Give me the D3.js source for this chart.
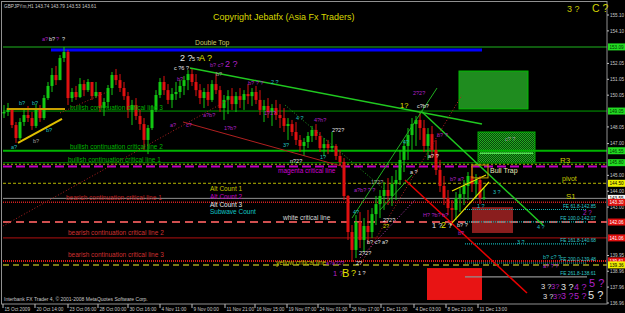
<!DOCTYPE html>
<html>
<head>
<meta charset="utf-8">
<script src="https://cdnjs.cloudflare.com/ajax/libs/d3/7.8.5/d3.min.js"></script>
<style>
  body { margin: 0; background: #000; }
  svg  { display: block; }
  text { font-family: "Liberation Sans", Arial, sans-serif; }
</style>
</head>
<body>
<script>
(function() {

var width = 625, height = 313;

/* GBPJPY H1, one candle per 8 bars */
var highs = [149.43,149.56,149.24,148.36,148.61,149.12,149.37,148.99,149.49,149.43,
             150.06,150.88,151.76,151.89,152.58,153.09,152.90,150.50,150.63,151.13,
             151.00,151.07,150.75,150.88,150.25,149.87,150.69,151.51,151.70,151.38,
             150.88,150.25,149.75,149.87,149.12,148.61,148.17,149.43,150.37,151.13,
             151.26,150.75,150.50,150.88,151.00,151.26,151.63,151.76,151.38,150.75,
             150.50,150.75,151.00,151.51,150.63,150.06,150.37,150.50,150.25,150.50,
             150.37,150.75,150.50,150.63,150.37,149.75,149.87,149.49,149.75,149.49,
             149.24,148.61,148.49,148.36,147.54,147.35,147.73,148.11,148.23,147.73,
             147.35,147.23,147.73,146.97,146.60,146.09,143.76,141.87,142.50,142.69,
             142.31,142.82,142.94,143.70,144.08,144.58,144.83,144.96,145.34,146.60,
             147.23,147.98,148.61,148.74,148.99,148.49,147.98,148.11,147.23,145.97,
             144.96,144.08,143.45,143.95,144.20,144.71,145.21,145.59,145.08,144.96,
             144.20];
var lows  = [148.61,148.74,147.98,147.04,147.23,148.11,148.36,147.86,147.98,148.36,
             148.49,149.75,150.25,150.69,151.00,152.14,149.43,149.62,149.75,149.87,
             149.99,150.25,149.75,149.87,148.99,148.74,149.24,150.06,150.69,150.25,
             149.75,148.61,148.17,148.49,147.86,146.60,146.34,147.86,148.99,149.87,
             150.06,149.49,149.24,149.75,149.87,150.06,150.37,150.63,149.99,149.49,
             149.24,149.37,149.62,150.12,148.99,148.49,148.86,149.12,148.99,149.24,
             149.12,149.49,149.37,149.49,148.80,148.36,148.61,148.11,148.49,147.98,
             147.73,147.23,147.48,146.91,146.47,146.22,146.72,147.10,147.23,146.47,
             146.22,146.34,146.47,145.97,145.59,143.45,140.93,139.54,139.79,140.42,
             140.17,140.67,141.05,141.87,142.31,142.82,143.13,143.07,143.45,144.39,
             145.21,145.97,146.60,146.85,147.23,146.47,145.97,146.09,145.02,143.95,
             143.13,142.50,141.93,142.19,142.69,143.13,143.45,143.95,143.57,143.19,
             143.45];
var closes = [148.99,149.24,148.17,147.35,148.36,148.80,148.61,148.11,149.12,148.61,
              149.87,150.63,151.32,151.00,152.39,152.77,149.87,150.25,149.93,150.75,
              150.37,150.88,149.99,150.25,149.24,149.62,150.50,151.32,151.00,150.50,
              149.99,149.12,149.43,148.74,148.23,147.23,147.98,149.12,150.06,150.88,
              150.37,149.75,150.12,150.25,150.63,151.00,151.38,150.88,150.37,149.87,
              150.25,149.75,150.75,150.37,149.24,149.75,149.99,149.49,149.99,149.75,
              150.12,149.99,150.25,149.75,149.12,149.37,148.99,149.24,148.80,148.61,
              148.11,148.23,147.73,147.23,146.85,147.10,147.48,147.86,147.48,146.72,
              146.97,146.72,146.85,146.22,145.84,143.70,141.43,140.30,142.06,140.93,
              141.81,141.43,142.56,143.19,143.70,144.08,143.70,144.45,144.71,145.97,
              146.85,147.54,148.23,148.49,147.98,146.85,147.60,146.60,145.34,144.33,
              143.57,142.94,142.82,143.57,143.82,144.33,144.96,144.45,144.71,143.57,
              143.61];
var firstOpen = 148.90,
    barsPerCandle = 8;

var dateLabels = ["15 Oct 2009","20 Oct 14:00","23 Oct 06:00","28 Oct 00:00","30 Oct 16:00",
                  "4 Nov 11:00","9 Nov 00:00","11 Nov 21:00","16 Nov 15:00","19 Nov 07:00",
                  "24 Nov 01:00","26 Nov 17:00","1 Dec 11:00","4 Dec 03:00","8 Dec 21:00",
                  "11 Dec 13:00"];
var dateBars = [0,64,130,190,250,314,378,444,504,568,630,694,756,822,886,950];

var priceTicks = [155.10,154.10,152.05,151.05,150.05,148.05,147.00,145.00,144.00,143.00,
                  139.95,138.96,137.96,136.96];

var levelNames  = ["doubleTop","bull3","bull2","bull1","r3","magenta","pivot","s1",
                   "bear1","whiteCrit","bear2","bear3","yellowCrit"];
var levelPrices = [153.09,149.05,146.55,145.80,145.70,145.55,144.50,143.55,
                   143.30,142.06,141.06,139.61,139.36];
var levelTexts  = ["Double Top","bullish continuation critical line 3",
                   "bullish continuation critical line 2","bullish continuation critical line 1",
                   "R3","magenta critical line","pivot","S1",
                   "bearish continuation critical line 1","white critical line",
                   "bearish continuation critical line 2","bearish continuation critical line 3",
                   "yellow critical line"];

var feTexts  = ["FE 61.8-142.85","FE 100.0-142.07","FE 161.8-140.68","FE 200.0-139.48","FE 261.8-138.61"];
var fePrices = [142.85,142.07,140.68,139.48,138.61];

/* trendlines: bar1, price1, bar2, price2 */
var trendNames  = ["greenMain","greenSteep","greenChan1","greenChan2","greenDotted",
                   "yellowRise","yellowFlat","wedgeUpper","wedgeLower","redDotA","redDotB",
                   "redSolid","redThick","redDotD","magentaDot","hatchEdge"];
var trendPoints = [[374,151.76,958,148.23],[836,149.05,1080,141.87],[698,142.31,868,150.50],
                   [754,142.82,818,145.02],[564,149.43,764,144.08],[30,147.04,118,148.55],
                   [8,149.18,124,149.18],[898,144.01,966,145.02],[894,141.87,972,144.58],
                   [0,141.81,454,149.81],[114,148.93,208,150.25],[360,148.36,684,145.52],
                   [804,144.71,1048,137.59],[714,139.35,918,150.06],[714,139.79,824,143.45],
                   [954,146.40,1060,146.40]];

/* zones: bar1, price1, bar2, price2 */
var zoneNames  = ["greenBox","hatchBox","darkRedBox","redBox","bullTrapBox"];
var zonePoints = [[912,151.57,1050,149.18],[950,147.73,1064,145.78],[938,143.00,1020,141.37],
                  [848,139.16,958,137.15],[938,145.65,970,144.84]];

/* wave count labels: text, bar, price, colour key, size key */
var waves = [
  ["a?",78,153.46,"P","s"],["b?",92,153.46,"W","s"],["?",106,153.46,"P","s"],["?",118,153.46,"W","s"],
  ["b?",32,149.43,"C","s"],["b?",58,149.43,"C","s"],["a?",16,146.66,"C","s"],["b?",60,147.04,"G","s"],
  ["b?",86,147.73,"C","s"],["2 ?",354,152.20,"W","l"],["5 ?",378,152.20,"W","s"],["A ?",392,152.20,"Y","l"],
  ["b? c?",414,151.82,"P","s"],["2 ?",444,151.82,"P","l"],["c ?6 ?",342,151.64,"W","s"],
  ["b?",348,150.94,"P","s"],["b?",426,151.26,"G","s"],["b? ? ?",490,150.69,"P","s"],["2 ?",536,150.75,"C","s"],
  ["a?",334,148.05,"P","s"],["c?",366,148.05,"P","s"],["a?b?",400,148.68,"P","s"],["1?b?",442,147.86,"P","s"],
  ["1?1?",522,148.80,"P","s"],["4 ?",586,148.49,"C","s"],["4?h?",622,148.36,"P","s"],["2?2?",658,147.73,"W","s"],
  ["3?",560,146.79,"C","s"],["n?2?",574,145.78,"W","s"],["1?",634,146.03,"C","s"],
  ["a?b? ? ?",702,143.95,"P","s"],["1?2?",736,144.46,"G","s"],["4?",800,146.98,"C","s"],
  ["2?2?",820,150.06,"P","s"],["1?",794,149.24,"Y","m"],["c?b?",828,149.24,"W","s"],
  ["b? ?",868,147.42,"P","s"],["a? ?",850,146.09,"W","s"],["a ?",814,145.09,"W","s"],
  ["b? a?",894,144.64,"P","s"],["3 ?",980,143.83,"C","s"],["c? ?",1004,147.16,"G","s"],
  ["1 ?",948,142.94,"C","s"],["2 ?",1160,142.52,"P","ms"],["H? ?b? b?",840,142.38,"P","s"],
  ["1 ?",858,141.68,"W","m"],["2",876,141.68,"Y","l"],["?",890,141.68,"W","m"],
  ["b? ?",908,141.75,"W","s"],["b?",910,141.24,"P","s"],["4 ?",1068,141.62,"C","s"],
  ["3 ?",1028,140.68,"C","s"],["b? c? ?",1080,139.73,"C","s"],["a? ? ?",1080,139.16,"P","s"],
  ["3 ?",1076,137.84,"W","m"],["3?",1096,137.84,"P","m"],["3 ?",1116,137.78,"W","l"],
  ["4 ?",1142,137.78,"P","l"],["5 ?",1172,137.97,"P","xl"],
  ["3 ?",1080,137.21,"W","m"],["3?",1100,137.21,"P","m"],["3 ?",1116,137.21,"P","l"],
  ["5 ?",1142,137.21,"P","l"],["5 ?",1170,137.21,"W","xl"],
  ["1 ?",660,138.66,"P","m"],["B",678,138.60,"Y","xl"],["?",696,138.66,"Y","l"],["1 ?",710,138.72,"W","s"],
  ["a?a?2?",646,139.35,"P","s"],["2?",706,139.35,"W","s"],["2?2?",712,139.98,"W","s"],
  ["b? c? a?",728,140.67,"W","s"],["2?2?",760,142.06,"W","s"],["2?",760,141.68,"Y","s"],
  ["4?",700,142.57,"C","s"]
];

/* styles */
var waveColor = { P: "#b020c8", W: "#e4e4e4", C: "#20c0c0", Y: "#e0e000", G: "#a0a0a0" },
    waveSize  = { s: 5.5, ms: 6.3, m: 7.5, l: 9, xl: 11 };

var levelStyle = {
  doubleTop:  { stroke: "#0f5a0f", w: 2,   dash: null,  box: "#22dd22", bt: "#003000", fill: "#c8c864", tx: 384,  dy: -2,  fs: 6.8 },
  bull3:      { stroke: "#00a000", w: 1,   dash: null,  box: "#22dd22", bt: "#003000", fill: "#00b400", tx: 134,  dy: -1.5, fs: 6.5 },
  bull2:      { stroke: "#00b400", w: 2,   dash: null,  box: "#22dd22", bt: "#003000", fill: "#00b400", tx: 134,  dy: -2,  fs: 6.5 },
  bull1:      { stroke: "#008000", w: 1,   dash: null,  box: "#22dd22", bt: "#003000", fill: "#00b400", tx: 130,  dy: -1,  fs: 6.5 },
  r3:         { stroke: "#b4b400", w: 1,   dash: "2,2", box: null,      fill: "#c8c800", tx: 1114, dy: -1.5, fs: 8 },
  magenta:    { stroke: "#c000c0", w: 2,   dash: "9,4", box: null,      fill: "#d000d0", tx: 550,  dy: 6.5, fs: 6.5 },
  pivot:      { stroke: "#b4b400", w: 1,   dash: "3,2", box: "#f0f000", bt: "#000",    fill: "#c8c800", tx: 1118, dy: -2,  fs: 7 },
  s1:         { stroke: "#909090", w: 1,   dash: null,  box: "#f4f4f4", bt: "#000",    fill: "#c8c800", tx: 1126, dy: 1,   fs: 8 },
  bear1:      { stroke: "#d02020", w: 1.5, dash: "1,1", box: "#e01010", bt: "#fff",    fill: "#c02020", tx: 126,  dy: -2,  fs: 6.5 },
  whiteCrit:  { stroke: "#d05050", w: 2,   dash: "8,5", box: "#e01010", bt: "#fff",    fill: "#d8d8d8", tx: 560,  dy: -2.5, fs: 6.5 },
  bear2:      { stroke: "#b01010", w: 1,   dash: null,  box: "#e01010", bt: "#fff",    fill: "#d03030", tx: 130,  dy: -2.5, fs: 6.5 },
  bear3:      { stroke: "#e01818", w: 2,   dash: "1,1", box: "#e01010", bt: "#fff",    fill: "#d03030", tx: 130,  dy: -3.5, fs: 6.5 },
  yellowCrit: { stroke: "#7a7a18", w: 2,   dash: "6,4", box: "#f0f000", bt: "#000",    fill: "#c0c000", tx: 546,  dy: 0,   fs: 6.5 }
};

var trendStyle = {
  greenMain:   { stroke: "#20c820", w: 1.5 }, greenSteep: { stroke: "#20c820", w: 1.5 },
  greenChan1:  { stroke: "#20b020", w: 1 },   greenChan2: { stroke: "#20b020", w: 1 },
  greenDotted: { stroke: "#20a020", w: 1, dash: "1,2" },
  yellowRise:  { stroke: "#e0c000", w: 2 },   yellowFlat: { stroke: "#c8a000", w: 2 },
  wedgeUpper:  { stroke: "#e8e000", w: 1.2 }, wedgeLower: { stroke: "#e8e000", w: 1.2 },
  redDotA:     { stroke: "#b02020", w: 1, dash: "1,2" }, redDotB: { stroke: "#b02020", w: 1, dash: "1,2" },
  redSolid:    { stroke: "#b02020", w: 1 },   redThick: { stroke: "#e80000", w: 1.5 },
  redDotD:     { stroke: "#c02020", w: 1, dash: "1,2" },
  magentaDot:  { stroke: "#c040c0", w: 1, dash: "1,2" },
  hatchEdge:   { stroke: "#50e050", w: 1.5 }
};

var zoneStyle = {
  greenBox:    { fill: "#1f8c1f", stroke: "#00c000" },
  hatchBox:    { fill: "url(#hatch)", stroke: "#00b000" },
  darkRedBox:  { fill: "#8a1e1e", stroke: "none" },
  redBox:      { fill: "#e81414", stroke: "none" },
  bullTrapBox: { fill: "none", stroke: "#c8a000" }
};

/* scales */
var x = d3.scaleLinear().domain([0, 1208]).range([3, 607]),
    y = d3.scaleLinear().domain([136.96, 155.10]).range([303, 15]);

var svg = d3.select("body").append("svg")
            .attr("width", width)
            .attr("height", height)
            .style("background", "#000");

var defs = svg.append("defs");
defs.append("clipPath").attr("id", "plot")
    .append("rect").attr("x", 2).attr("y", 2).attr("width", 605).attr("height", 302);
var pat = defs.append("pattern").attr("id", "hatch")
    .attr("width", 2).attr("height", 2).attr("patternUnits", "userSpaceOnUse");
pat.append("rect").attr("width", 2).attr("height", 2).attr("fill", "#0a400a");
pat.append("rect").attr("width", 1).attr("height", 1).attr("fill", "#20b020");
pat.append("rect").attr("x", 1).attr("y", 1).attr("width", 1).attr("height", 1).attr("fill", "#20b020");

var plot = svg.append("g").attr("clip-path", "url(#plot)");

/* zones */
function zoneRect(d) {
  return { x: x(d[0]), y: y(d[1]), w: x(d[2]) - x(d[0]), h: y(d[3]) - y(d[1]) };
}
plot.selectAll("rect.zone")
  .data(zoneNames.filter(function(n) { return n != "bullTrapBox"; }))
  .enter().append("rect")
    .attr("class", "zone")
    .each(function(n) {
      var r = zoneRect(zonePoints[zoneNames.indexOf(n)]);
      d3.select(this).attr("x", r.x).attr("y", r.y).attr("width", r.w).attr("height", r.h)
        .attr("fill", zoneStyle[n].fill).attr("stroke", zoneStyle[n].stroke);
    });

/* horizontal levels */
plot.selectAll("line.level")
  .data(levelNames)
  .enter().append("line")
    .attr("class", "level")
    .attr("x1", 3).attr("x2", 607)
    .attr("y1", function(n, i) { return y(levelPrices[i]); })
    .attr("y2", function(n, i) { return y(levelPrices[i]); })
    .attr("stroke", function(n) { return levelStyle[n].stroke; })
    .attr("stroke-width", function(n) { return levelStyle[n].w; })
    .attr("stroke-dasharray", function(n) { return levelStyle[n].dash; });

/* double top bar */
plot.append("line")
  .attr("x1", x(96)).attr("x2", x(958))
  .attr("y1", y(152.90)).attr("y2", y(152.90))
  .attr("stroke", "#0000ff").attr("stroke-width", 3);

/* fibo extensions */
plot.selectAll("line.fe")
  .data(fePrices)
  .enter().append("line")
    .attr("class", "fe")
    .attr("x1", x(924)).attr("x2", x(1168))
    .attr("y1", function(d) { return y(d); })
    .attr("y2", function(d) { return y(d); })
    .attr("stroke", function(d, i) { return i == 4 ? "#909090" : "#10b0b0"; })
    .attr("stroke-width", 1.2)
    .attr("stroke-dasharray", function(d, i) { return i == 4 ? null : "1,1"; });

plot.selectAll("text.fe")
  .data(feTexts)
  .enter().append("text")
    .attr("class", "fe")
    .attr("x", x(1186)).attr("y", function(d, i) { return y(fePrices[i]) - 1.5; })
    .attr("text-anchor", "end")
    .attr("font-size", "4.8px")
    .attr("fill", "#30c8c8")
    .text(function(d) { return d; });

/* candles */
var candles = closes.map(function(c, i) {
  var o = i ? closes[i - 1] : firstOpen;
  return { bar: i * barsPerCandle + 2, o: o, c: c,
           h: Math.max(highs[i], o, c), l: Math.min(lows[i], o, c) };
});
var color = function(d) { return d.c >= d.o ? "#12c812" : "#e01010"; };

var cg = plot.append("g").attr("class", "candles");
cg.selectAll("line")
  .data(candles)
  .enter().append("line")
    .attr("x1", function(d) { return x(d.bar); })
    .attr("x2", function(d) { return x(d.bar); })
    .attr("y1", function(d) { return y(d.h); })
    .attr("y2", function(d) { return y(d.l); })
    .attr("stroke", color);
cg.selectAll("rect")
  .data(candles)
  .enter().append("rect")
    .attr("x", function(d) { return x(d.bar) - 1.5; })
    .attr("width", 3)
    .attr("y", function(d) { return y(Math.max(d.o, d.c)); })
    .attr("height", function(d) { return Math.max(1, Math.abs(y(d.o) - y(d.c))); })
    .attr("fill", color);

/* trend lines */
plot.selectAll("line.trend")
  .data(trendNames)
  .enter().append("line")
    .attr("class", "trend")
    .each(function(n) {
      var p = trendPoints[trendNames.indexOf(n)], s = trendStyle[n];
      d3.select(this)
        .attr("x1", x(p[0])).attr("y1", y(p[1]))
        .attr("x2", x(p[2])).attr("y2", y(p[3]))
        .attr("stroke", s.stroke).attr("stroke-width", s.w)
        .attr("stroke-dasharray", s.dash || null);
    });

/* bull trap box + text */
var bt = zoneRect(zonePoints[zoneNames.indexOf("bullTrapBox")]);
plot.append("rect")
  .attr("x", bt.x).attr("y", bt.y).attr("width", bt.w).attr("height", bt.h)
  .attr("fill", "none").attr("stroke", zoneStyle.bullTrapBox.stroke);
plot.append("text")
  .attr("x", x(974)).attr("y", y(145.15))
  .attr("font-size", "7px").attr("fill", "#e8e8b8")
  .text("Bull Trap");

/* level labels */
plot.selectAll("text.level")
  .data(levelNames)
  .enter().append("text")
    .attr("class", "level")
    .attr("x", function(n) { return x(levelStyle[n].tx); })
    .attr("y", function(n, i) { return y(levelPrices[i]) + levelStyle[n].dy; })
    .attr("font-size", function(n) { return levelStyle[n].fs + "px"; })
    .attr("fill", function(n) { return levelStyle[n].fill; })
    .text(function(n, i) { return levelTexts[i]; });

/* wave counts */
plot.selectAll("text.wave")
  .data(waves)
  .enter().append("text")
    .attr("class", "wave")
    .attr("x", function(d) { return x(d[1]); })
    .attr("y", function(d) { return y(d[2]); })
    .attr("font-size", function(d) { return waveSize[d[4]] + "px"; })
    .attr("fill", function(d) { return waveColor[d[3]]; })
    .text(function(d) { return d[0]; });

/* legend of counts */
var counts = ["Alt Count 1", "Alt Count 2", "Alt Count 3", "Subwave Count"],
    countColors = ["#c8c800", "#c000c0", "#e8e8e8", "#10c8c8"];
svg.selectAll("text.count")
  .data(counts)
  .enter().append("text")
    .attr("class", "count")
    .attr("x", 210)
    .attr("y", function(d, i) { return 191 + i * 7.8; })
    .attr("font-size", "6.5px")
    .attr("fill", function(d, i) { return countColors[i]; })
    .text(function(d) { return d; });

/* frame */
svg.append("rect")
  .attr("x", 1.5).attr("y", 1.5).attr("width", 605.5).attr("height", 302.5)
  .attr("fill", "none").attr("stroke", "#909090");

/* price axis */
var axis = svg.append("g");
axis.selectAll("line")
  .data(priceTicks)
  .enter().append("line")
    .attr("x1", 607).attr("x2", 609)
    .attr("y1", function(d) { return y(d); })
    .attr("y2", function(d) { return y(d); })
    .attr("stroke", "#c0c0c0");
axis.selectAll("text")
  .data(priceTicks)
  .enter().append("text")
    .attr("x", 610)
    .attr("y", function(d) { return y(d) + 1.8; })
    .attr("font-size", "4.6px")
    .attr("fill", "#c8c8c8")
    .text(function(d) { return d.toFixed(2); });

var boxed = levelNames.filter(function(n) { return levelStyle[n].box; });
var boxes = svg.selectAll("g.box")
  .data(boxed)
  .enter().append("g")
    .attr("class", "box")
    .attr("transform", function(n) {
      return "translate(608," + y(levelPrices[levelNames.indexOf(n)]) + ")";
    });
boxes.append("rect")
  .attr("x", 0).attr("y", -3.5).attr("width", 17).attr("height", 7)
  .attr("fill", function(n) { return levelStyle[n].box; });
boxes.append("text")
  .attr("x", 1.5).attr("y", 1.8)
  .attr("font-size", "4.6px")
  .attr("fill", function(n) { return levelStyle[n].bt; })
  .text(function(n) { return levelPrices[levelNames.indexOf(n)].toFixed(2); });

/* time axis */
var tx = svg.append("g");
tx.selectAll("line")
  .data(dateBars)
  .enter().append("line")
    .attr("x1", function(d) { return x(d); })
    .attr("x2", function(d) { return x(d); })
    .attr("y1", 304).attr("y2", 308)
    .attr("stroke", "#c0c0c0");
tx.selectAll("text")
  .data(dateLabels)
  .enter().append("text")
    .attr("x", function(d, i) { return x(dateBars[i]) + 1.5; })
    .attr("y", 310.5)
    .attr("font-size", "4.7px")
    .attr("fill", "#c8c8c8")
    .text(function(d) { return d; });

/* header texts */
svg.append("text").attr("x", 4).attr("y", 7.5)
  .attr("font-size", "4.7px").attr("fill", "#c8c8c8")
  .text("GBPJPYm,H1  143.74 143.79 143.53 143.61");
svg.append("text").attr("x", 213).attr("y", 19.5)
  .attr("font-size", "9px").attr("fill", "#d8d800")
  .text("Copyright Jebatfx (Asia Fx Traders)");
svg.append("text").attr("x", 567).attr("y", 11.5)
  .attr("font-size", "9px").attr("fill", "#c8c800")
  .text("3 ?");
svg.append("text").attr("x", 592).attr("y", 12)
  .attr("font-size", "10.5px").attr("fill", "#d0d000")
  .text("C ?");
svg.append("text").attr("x", 4).attr("y", 301)
  .attr("font-size", "5px").attr("fill", "#c8c8c8")
  .text("Interbank FX Trader 4, \u00a9 2001-2008 MetaQuotes Software Corp.");

}());
</script>
</body>
</html>
